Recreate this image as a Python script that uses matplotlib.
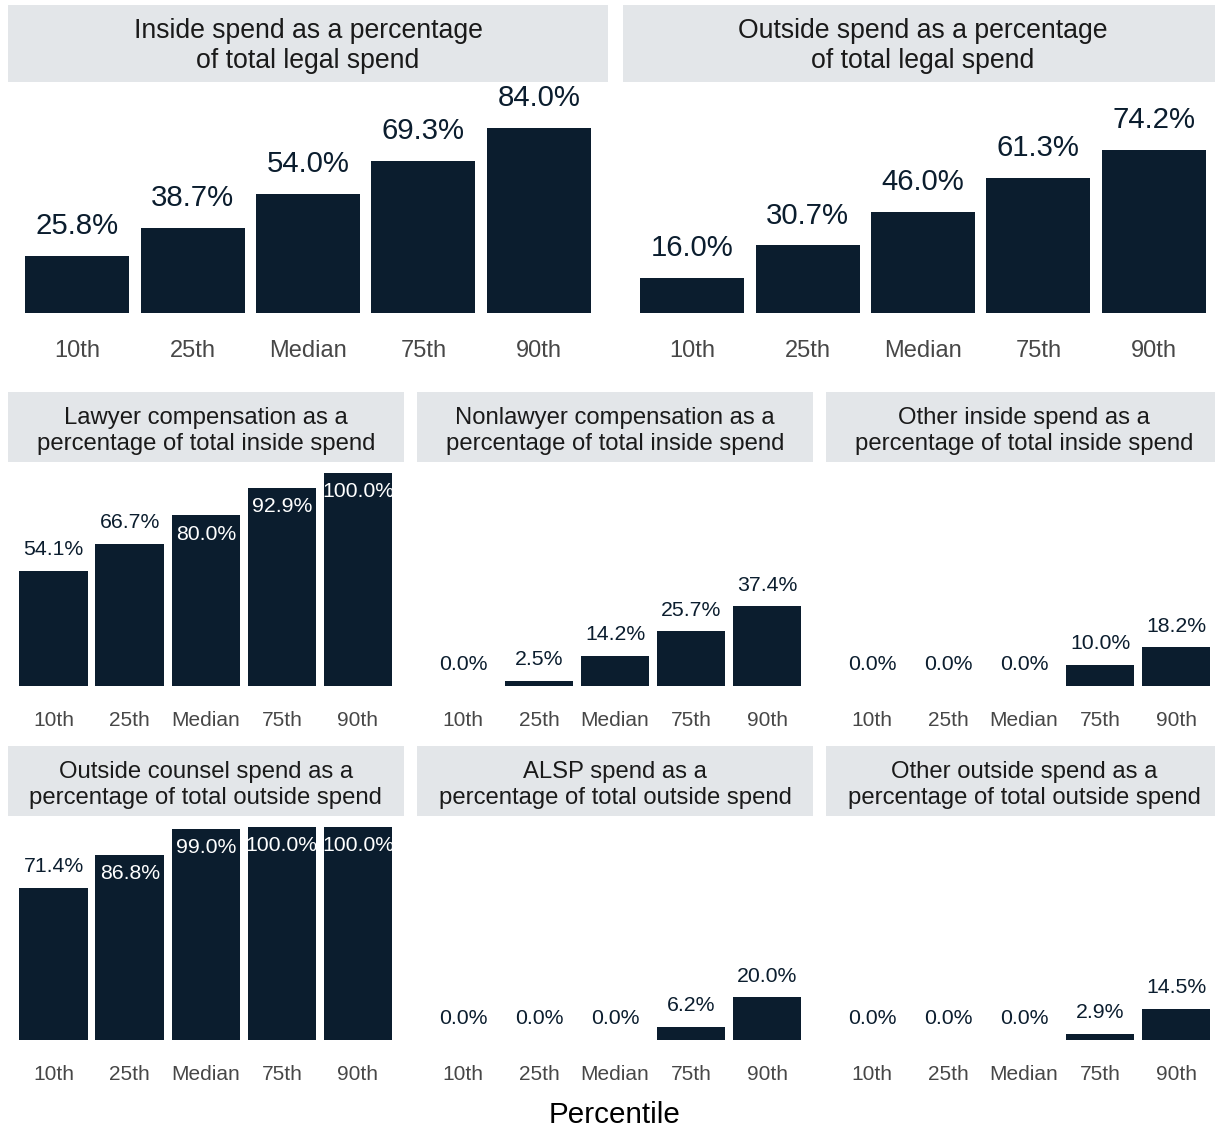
import matplotlib
matplotlib.use("Agg")
import matplotlib.pyplot as plt

plt.rcParams['font.family'] = ['Liberation Sans', 'DejaVu Sans']

categories = ["10th", "25th", "Median", "75th", "90th"]

titles = [
    "Inside spend as a percentage\nof total legal spend",
    "Outside spend as a percentage\nof total legal spend",
    "Lawyer compensation as a\npercentage of total inside spend",
    "Nonlawyer compensation as a\npercentage of total inside spend",
    "Other inside spend as a\npercentage of total inside spend",
    "Outside counsel spend as a\npercentage of total outside spend",
    "ALSP spend as a\npercentage of total outside spend",
    "Other outside spend as a\npercentage of total outside spend",
]

inside_total = [25.8, 38.7, 54.0, 69.3, 84.0]
outside_total = [16.0, 30.7, 46.0, 61.3, 74.2]
lawyer_comp = [54.1, 66.7, 80.0, 92.9, 100.0]
nonlawyer_comp = [0.0, 2.5, 14.2, 25.7, 37.4]
other_inside = [0.0, 0.0, 0.0, 10.0, 18.2]
outside_counsel = [71.4, 86.8, 99.0, 100.0, 100.0]
alsp_spend = [0.0, 0.0, 0.0, 6.2, 20.0]
other_outside = [0.0, 0.0, 0.0, 2.9, 14.5]

series = [inside_total, outside_total, lawyer_comp, nonlawyer_comp,
          other_inside, outside_counsel, alsp_spend, other_outside]

W, H = 1215, 1128
DPI = 100
fig = plt.figure(figsize=(W / DPI, H / DPI), dpi=DPI)
fig.patch.set_facecolor("white")

BAR = "#0b1d2e"
STRIP = "#e3e6e9"
TICK = "#474747"

big = dict(title_fs=19.2, val_fs=21.2, tick_fs=17.0, above=21.5, pad=19.5, ls=1.2, ty=0.47)
small = dict(title_fs=17.2, val_fs=15.3, tick_fs=15.0, above=15.2, pad=18, ls=1.2, ty=0.445)

layouts = [
    (8, 608, 5, 82, 313, big, False),
    (623, 1223, 5, 82, 313, big, False),
    (8, 403.6, 392, 462, 686, small, True),
    (417.4, 812.6, 392, 462, 686, small, True),
    (826.4, 1221.6, 392, 462, 686, small, True),
    (8, 403.6, 746, 816, 1040, small, True),
    (417.4, 812.6, 746, 816, 1040, small, True),
    (826.4, 1221.6, 746, 816, 1040, small, True),
]


def fig_rect(l, r, t, b):
    return [l / W, 1 - b / H, (r - l) / W, (b - t) / H]


for title, vals, (l, r, st, sb, base, sty, inside_rule) in zip(titles, series, layouts):
    sax = fig.add_axes(fig_rect(l, r, st, sb))
    sax.set_facecolor(STRIP)
    sax.set_xticks([])
    sax.set_yticks([])
    for s in sax.spines.values():
        s.set_visible(False)
    sax.text(0.5, sty["ty"], title, ha="center", va="center", fontsize=sty["title_fs"],
             color="#1a1a1a", transform=sax.transAxes, linespacing=sty["ls"])

    ax = fig.add_axes(fig_rect(l, r, sb, base))
    ax.set_facecolor("none")
    x = list(range(len(categories)))
    ax.bar(x, vals, width=0.9, color=BAR)
    ax.set_xlim(-0.6, 4.6)
    ax.set_ylim(0, 105)
    ax.set_xticks(x)
    ax.set_xticklabels(categories)
    ax.tick_params(axis="x", length=0, pad=sty["pad"], labelsize=sty["tick_fs"], colors=TICK)
    ax.set_yticks([])
    for s in ax.spines.values():
        s.set_visible(False)
    for xi, v in zip(x, vals):
        lab = f"{v:.1f}%"
        if inside_rule and v >= 75:
            ax.annotate(lab, (xi, v), xytext=(0, -13.8), textcoords="offset points",
                        ha="center", va="center", fontsize=sty["val_fs"], color="white")
        else:
            ax.annotate(lab, (xi, v), xytext=(0, sty["above"]),
                        textcoords="offset points", ha="center", va="center",
                        fontsize=sty["val_fs"], color=BAR)

fig.text(615 / W, 1 - 1115 / H, "Percentile", ha="center", va="center",
         fontsize=21.3, color="black")

fig.savefig("out.png", dpi=DPI, facecolor="white")
